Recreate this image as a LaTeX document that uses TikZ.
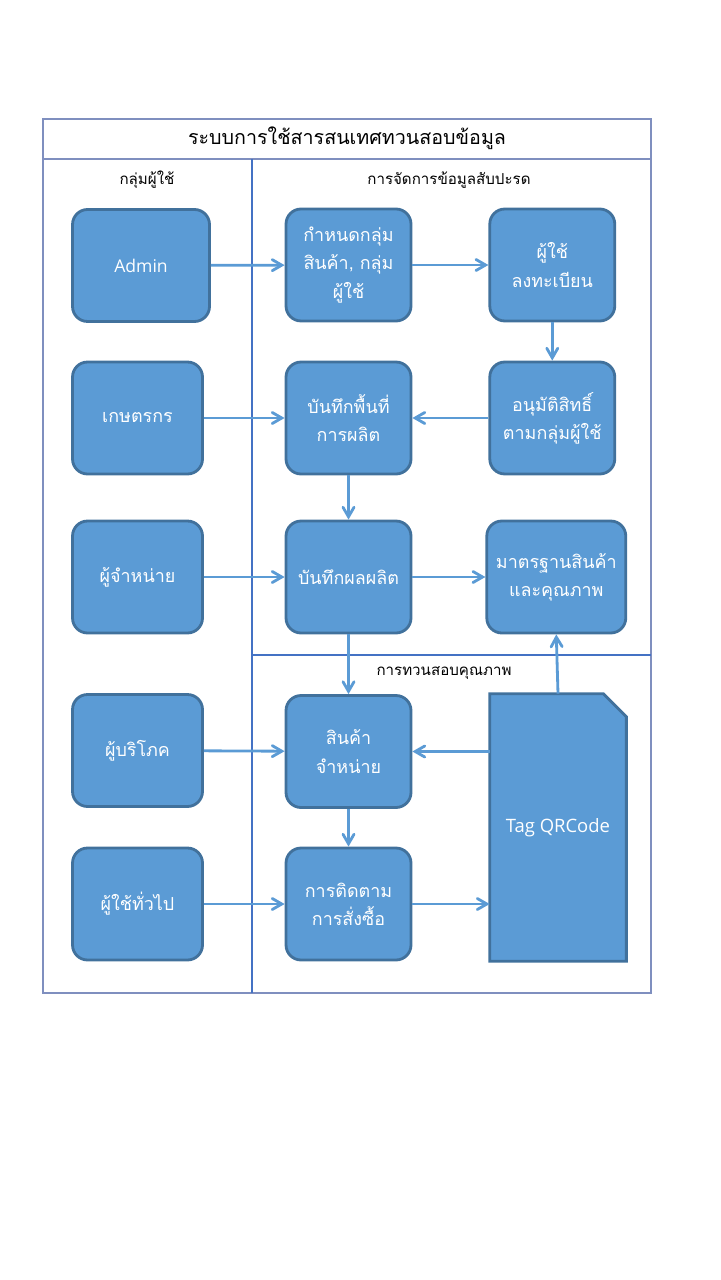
\documentclass[tikz,border=0pt]{standalone}
\usepackage{fontspec}
\setmainfont{Open Sans}
\newfontfamily\thaifont[Script=Thai]{Loma}
\usepackage{xcolor}
\usepackage{tikz}
\usetikzlibrary{positioning}
\usetikzlibrary{arrows}
\usetikzlibrary{backgrounds}

\definecolor{boxfill}{HTML}{5B9BD5}
\definecolor{boxline}{HTML}{41719C}
\definecolor{laneline}{HTML}{4472C4}
\definecolor{frameline}{HTML}{7F8FBF}

\tikzset{
	procbox/.style={rectangle, rounded corners=0.3cm, fill=boxfill, draw=boxline,
		line width=1.6pt, minimum width=2.5cm, minimum height=2.24cm, text=white,
		align=center, inner xsep=2pt, font=\thaifont\fontsize{10.2}{16}\selectfont},
	userbox/.style={procbox, minimum width=2.6cm},
	tagbox/.style={rectangle, minimum width=2.72cm, minimum height=5.34cm, text=white,
		font=\fontsize{10.5}{13}\selectfont},
	tagshape/.style={fill=boxfill, draw=boxline, line width=1.6pt},
	flow/.style={draw=boxfill, line width=1.6pt, -angle 60},
	lanetitle/.style={font=\thaifont\fontsize{8.6}{11}\selectfont}
}

\begin{document}
\begin{tikzpicture}[x=0.02cm, y=-0.02cm]
		\useasboundingbox (0,0) rectangle (720,1280);
		% frame
		\draw[frameline, line width=0.6pt] (43,119) rectangle (651,993);
		\draw[frameline, line width=0.6pt] (43,159) -- (651,159);
		\draw[laneline, line width=1.1pt] (252,159) -- (252,993);
		\draw[laneline, line width=0.8pt] (252,655) -- (651,655);
		\node[font=\thaifont\fontsize{11.2}{14}\selectfont] (title) at (347,138) {ระบบการใช้สารสนเทศทวนสอบข้อมูล};
		\node[lanetitle] (usergroup) at (147,180) {กลุ่มผู้ใช้};
		\node[lanetitle] (manage) at (449,180) {การจัดการข้อมูลสับปะรด};
		\node[lanetitle] (verify) at (444,673) {การทวนสอบคุณภาพ};

		% boxes
		\node[procbox, minimum width=2.74cm, font=\fontsize{10}{12}\selectfont] (admin) at (141,265.5) {Admin};
		\node[procbox] (setgroup) at (348.5,265) {กำหนดกลุ่ม\\สินค้า, กลุ่ม\\ผู้ใช้};
		\node[procbox, right=1.52cm of setgroup] (register) {ผู้ใช้\\ลงทะเบียน};
		\node[userbox] (farmer) at (137.5,418) {เกษตรกร};
		\node[procbox] (area) at (348.5,418) {บันทึกพื้นที่\\การผลิต};
		\node[procbox, right=1.52cm of area] (approve) {อนุมัติสิทธิ์\\ตามกลุ่มผู้ใช้};
		\node[userbox] (seller) at (137.5,577) {ผู้จำหน่าย};
		\node[procbox] (yield) at (348.5,577) {บันทึกผลผลิต};
		\node[procbox, minimum width=2.78cm, right=1.46cm of yield] (standard) {มาตรฐานสินค้า\\และคุณภาพ};
		\node[userbox] (consumer) at (137.5,750.5) {ผู้บริโภค};
		\node[procbox] (sale) at (348.5,751.5) {สินค้า\\จำหน่าย};
		\node[userbox] (general) at (137.5,904) {ผู้ใช้ทั่วไป};
		\node[procbox] (track) at (348.5,904) {การติดตาม\\การสั่งซื้อ};
		\node[tagbox] (tag) at (558,827.5) {Tag QRCode};
		\begin{scope}[on background layer]
			\path[tagshape] (tag.north west) -- ([xshift=-0.46cm]tag.north east)
				-- ([yshift=-0.46cm]tag.north east) -- (tag.south east) -- (tag.south west) -- cycle;
		\end{scope}

		% arrows
		\path[flow] (admin) -- (setgroup);
		\path[flow] (setgroup) -- (register);
		\path[flow] (register) -- (approve);
		\path[flow] (approve) -- (area);
		\path[flow] (farmer) -- (area);
		\path[flow] (area) -- (yield);
		\path[flow] (seller) -- (yield);
		\path[flow] (yield) -- (standard);
		\path[flow] (yield) -- (sale);
		\path[flow] (tag.north) -- (standard.south);
		\path[flow] (tag.west |- sale) -- (sale.east);
		\path[flow] (consumer) -- (sale);
		\path[flow] (sale) -- (track);
		\path[flow] (general) -- (track);
		\path[flow] (track.east) -- (track.east -| tag.west);
	\end{tikzpicture}
\end{document}
